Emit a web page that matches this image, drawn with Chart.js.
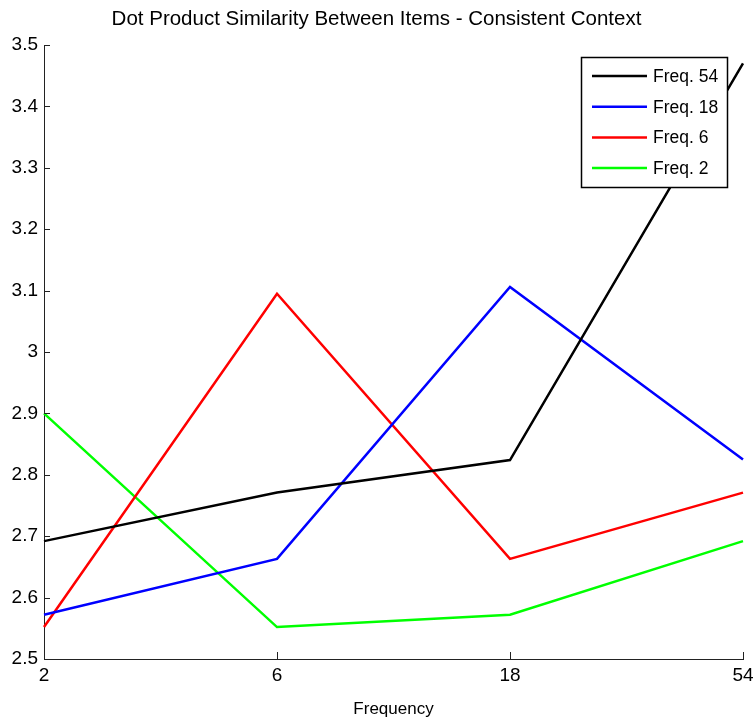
<!DOCTYPE html>
<html>
<head>
<meta charset="utf-8">
<script src="https://cdn.jsdelivr.net/npm/chart.js@4/dist/chart.umd.min.js"></script>
<style>
  html, body { margin: 0; padding: 0; background: #fff; }
  #wrap { width: 753px; height: 722px; position: relative; }
</style>
</head>
<body>
<div id="wrap"><canvas id="sim"></canvas></div>
<script>
const FONT = "'Liberation Sans', Arial, sans-serif";

const CATEGORIES = ["2", "6", "18", "54"];
const SERIES_NAMES = ["Freq. 54", "Freq. 18", "Freq. 6", "Freq. 2"];
const FREQ_54 = [2.692, 2.771, 2.824, 3.470];
const FREQ_18 = [2.572, 2.663, 3.106, 2.825];
const FREQ_6 = [2.552, 3.095, 2.663, 2.771];
const FREQ_2 = [2.900, 2.552, 2.572, 2.692];
const Y_TICKS = [2.5, 2.6, 2.7, 2.8, 2.9, 3, 3.1, 3.2, 3.3, 3.4, 3.5];

const COLORS = ["#000000", "#0000ff", "#ff0000", "#00ff00"];
const TITLE = "Dot Product Similarity Between Items - Consistent Context";

// title, inward ticks and boxed legend, MATLAB style
const matlabLook = {
  id: "matlabLook",
  afterDraw(chart) {
    const ctx = chart.ctx;
    const area = chart.chartArea;
    const x = chart.scales.x;
    const y = chart.scales.y;
    ctx.save();

    ctx.fillStyle = "#000";
    ctx.font = "20.5px " + FONT;
    ctx.textAlign = "center";
    ctx.textBaseline = "middle";
    ctx.fillText(TITLE, 376.5, 19);

    ctx.strokeStyle = "#222";
    ctx.lineWidth = 1;
    ctx.beginPath();
    Y_TICKS.forEach(v => {
      const py = Math.round(y.getPixelForValue(v)) + 0.5;
      ctx.moveTo(area.left, py);
      ctx.lineTo(area.left + 6, py);
    });
    CATEGORIES.forEach((c, i) => {
      const px = Math.round(x.getPixelForValue(i)) + 0.5;
      ctx.moveTo(px, area.bottom);
      ctx.lineTo(px, area.bottom - 7);
    });
    ctx.stroke();

    // legend
    const bx = 581.5, by = 57.5, bw = 146, bh = 130;
    ctx.fillStyle = "#fff";
    ctx.fillRect(bx, by, bw, bh);
    ctx.strokeStyle = "#000";
    ctx.lineWidth = 1.5;
    ctx.strokeRect(bx, by, bw, bh);
    ctx.font = "17.5px " + FONT;
    ctx.textAlign = "left";
    chart.data.datasets.forEach((ds, i) => {
      const ry = 76 + i * 30.7;
      ctx.strokeStyle = ds.borderColor;
      ctx.lineWidth = 2.5;
      ctx.beginPath();
      ctx.moveTo(592, ry);
      ctx.lineTo(647, ry);
      ctx.stroke();
      ctx.fillStyle = "#000";
      ctx.fillText(ds.label, 653, ry + 1);
    });
    ctx.restore();
  }
};

const seriesData = [FREQ_54, FREQ_18, FREQ_6, FREQ_2];

new Chart(document.getElementById("sim"), {
  type: "line",
  data: {
    labels: CATEGORIES,
    datasets: seriesData.map((d, i) => ({
      label: SERIES_NAMES[i],
      data: d,
      borderColor: COLORS[i],
      backgroundColor: COLORS[i],
      borderWidth: 2.5,
      pointRadius: 0,
      tension: 0,
      fill: false,
    })),
  },
  options: {
    responsive: true,
    maintainAspectRatio: false,
    animation: false,
    layout: { padding: { top: 45, right: 10, left: 0, bottom: 0 } },
    plugins: {
      legend: { display: false },
      title: { display: false },
      tooltip: { enabled: false },
    },
    scales: {
      x: {
        type: "category",
        offset: false,
        grid: { display: false, drawTicks: false },
        border: { display: true, color: "#222", width: 1 },
        ticks: { color: "#000", font: { family: FONT, size: 19 }, padding: 5, maxRotation: 0 },
        title: { display: true, text: "Frequency", color: "#000", font: { family: FONT, size: 17 }, padding: { top: 0, bottom: 2 } },
        afterFit: s => { s.height = 63; s.paddingLeft = 0; s.paddingRight = 0; },
      },
      y: {
        min: 2.5,
        max: 3.5,
        afterBuildTicks: s => { s.ticks = Y_TICKS.map(v => ({ value: v })); },
        grid: { display: false, drawTicks: false },
        border: { display: true, color: "#222", width: 1 },
        ticks: {
          color: "#000",
          font: { family: FONT, size: 19 },
          padding: 6,
          callback: v => String(v),
        },
        afterFit: s => { s.width = 44; s.paddingTop = 0; s.paddingBottom = 0; },
      },
    },
  },
  plugins: [matlabLook],
});
</script>
</body>
</html>
